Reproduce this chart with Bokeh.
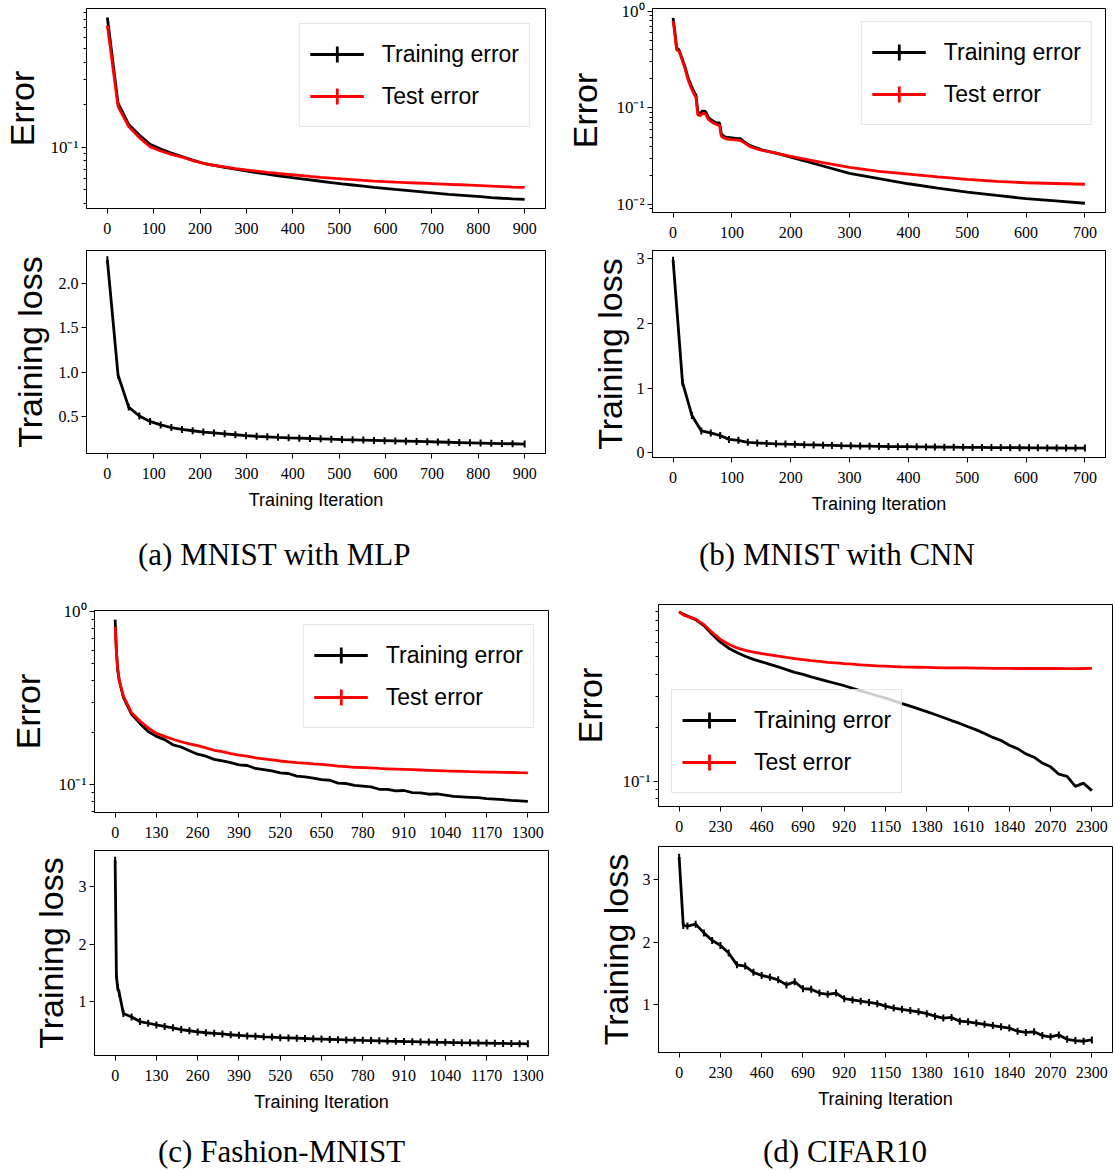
import math
from bokeh.plotting import figure
from bokeh.models import (Range1d, FixedTicker, Legend, LegendItem, Div,
                          NumeralTickFormatter, CustomJSTickFormatter)
from bokeh.layouts import row, column
from bokeh.embed import file_html
from bokeh.resources import INLINE

# ------------------------------------------------------------------ data
# (a) MNIST with MLP
mlp_iter = [0, 23, 46, 69, 92, 115, 138, 161, 184, 207, 230, 253, 276, 299, 322,
            345, 368, 391, 414, 437, 460, 483, 506, 529, 552, 575, 598, 621, 644,
            667, 690, 713, 736, 759, 782, 805, 828, 851, 874, 900]
mlp_train_err = [0.83, 0.205, 0.145, 0.122, 0.105, 0.097, 0.091, 0.086, 0.081, 0.077,
                 0.0745, 0.072, 0.070, 0.068, 0.0661, 0.0644, 0.0628, 0.0613, 0.0600,
                 0.0587, 0.0574, 0.0562, 0.0550, 0.0540, 0.0530, 0.0520, 0.0511,
                 0.0502, 0.0494, 0.0486, 0.0478, 0.0471, 0.0464, 0.0458, 0.0452,
                 0.0446, 0.0440, 0.0435, 0.0431, 0.0427]
mlp_test_err = [0.73, 0.195, 0.140, 0.117, 0.101, 0.094, 0.089, 0.085, 0.0805, 0.077,
                0.0745, 0.0725, 0.0705, 0.069, 0.0677, 0.0664, 0.0652, 0.0641, 0.0631,
                0.0621, 0.0612, 0.0604, 0.0596, 0.0589, 0.0582, 0.0576, 0.0571,
                0.0566, 0.0562, 0.0558, 0.0554, 0.0550, 0.0546, 0.0542, 0.0538,
                0.0534, 0.0530, 0.0526, 0.0522, 0.0519]
mlp_loss = [2.26, 0.97, 0.61, 0.51, 0.45, 0.41, 0.38, 0.36, 0.345, 0.33, 0.32, 0.31,
            0.30, 0.29, 0.283, 0.277, 0.271, 0.266, 0.262, 0.258, 0.254, 0.25, 0.246,
            0.243, 0.24, 0.237, 0.234, 0.231, 0.228, 0.225, 0.222, 0.219, 0.216,
            0.213, 0.21, 0.207, 0.204, 0.201, 0.199, 0.196]

# (b) MNIST with CNN
cnn_err_iter = [0, 3, 6, 10, 15, 20, 25, 30, 35,
                39, 42, 46, 50, 55, 60, 65, 70, 75, 79,
                82, 86, 90, 100, 110, 115, 120, 125, 130, 140,
                150, 175, 200, 250, 300, 350, 400, 450, 500, 550,
                600, 650, 700]
cnn_train_err = [0.86, 0.62, 0.42, 0.40, 0.33, 0.27, 0.21, 0.175, 0.15,
                 0.135, 0.09, 0.088, 0.093, 0.092, 0.08, 0.075, 0.072, 0.07, 0.07,
                 0.054, 0.051, 0.05, 0.049, 0.048, 0.048, 0.045, 0.043, 0.041, 0.039,
                 0.037, 0.034, 0.031, 0.0255, 0.021, 0.0185, 0.0164, 0.0148, 0.0134, 0.0124,
                 0.0115, 0.0109, 0.0103]
cnn_test_err = [0.80, 0.58, 0.40, 0.39, 0.32, 0.26, 0.20, 0.165, 0.142,
                0.128, 0.085, 0.083, 0.088, 0.087, 0.076, 0.072, 0.069, 0.067, 0.066,
                0.051, 0.049, 0.048, 0.047, 0.0465, 0.046, 0.044, 0.042, 0.040, 0.038,
                0.0365, 0.034, 0.0315, 0.0275, 0.0242, 0.022, 0.0206, 0.0193, 0.0182, 0.0174,
                0.0168, 0.0165, 0.0162]
cnn_loss_iter = [0, 16, 32, 48, 64, 80, 95, 111, 127, 143, 159, 175, 191, 207, 223,
                 239, 255, 270, 286, 302, 318, 334, 350, 366, 382, 398, 414, 430, 445,
                 461, 477, 493, 509, 525, 541, 557, 573, 589, 605, 620, 636, 652, 668,
                 684, 700]
cnn_loss = [2.98, 1.09, 0.58, 0.34, 0.31, 0.27, 0.21, 0.195, 0.165, 0.155, 0.148, 0.142,
            0.137, 0.133, 0.128, 0.124, 0.12, 0.117, 0.113, 0.11, 0.107, 0.105, 0.103,
            0.1, 0.098, 0.097, 0.095, 0.093, 0.092, 0.09, 0.089, 0.087, 0.086, 0.085,
            0.084, 0.083, 0.082, 0.081, 0.08, 0.079, 0.078, 0.077, 0.076, 0.0755, 0.075]

# (c) Fashion-MNIST
fm_iter = [0, 4, 8, 13, 26, 52, 78, 104, 130, 156, 182, 208, 234, 260, 286, 312, 338,
           364, 390, 416, 442, 468, 494, 520, 546, 572, 598, 624, 650, 676, 702, 728,
           754, 780, 806, 832, 858, 884, 910, 936, 962, 988, 1014, 1040, 1066, 1092,
           1118, 1144, 1170, 1196, 1222, 1248, 1274, 1300]
fm_train_err = [0.90, 0.60, 0.46, 0.40, 0.32, 0.255, 0.226, 0.203, 0.19, 0.182, 0.17,
                0.165, 0.157, 0.15, 0.146, 0.140, 0.137, 0.134, 0.130, 0.129, 0.124,
                0.122, 0.120, 0.117, 0.116, 0.112, 0.111, 0.109, 0.107, 0.106, 0.102,
                0.1015, 0.099, 0.098, 0.097, 0.094, 0.094, 0.092, 0.0925, 0.090, 0.0895,
                0.088, 0.0885, 0.087, 0.0855, 0.085, 0.0845, 0.084, 0.083, 0.0825,
                0.0818, 0.081, 0.0805, 0.080]
fm_test_err = [0.82, 0.58, 0.47, 0.40, 0.325, 0.26, 0.233, 0.213, 0.198, 0.19, 0.183,
               0.177, 0.172, 0.168, 0.163, 0.158, 0.155, 0.151, 0.148, 0.146, 0.143,
               0.141, 0.139, 0.137, 0.1355, 0.134, 0.133, 0.1318, 0.131, 0.1295, 0.128,
               0.127, 0.126, 0.1255, 0.125, 0.124, 0.1235, 0.123, 0.1225, 0.122, 0.1215,
               0.121, 0.1205, 0.120, 0.1196, 0.1192, 0.1188, 0.1185, 0.1182, 0.118,
               0.1177, 0.1175, 0.1172, 0.117]
fm_loss = [3.46, 1.45, 1.25, 1.15, 0.80, 0.74, 0.66, 0.63, 0.60, 0.575, 0.55, 0.52,
           0.50, 0.48, 0.465, 0.455, 0.445, 0.43, 0.42, 0.41, 0.405, 0.395, 0.39, 0.38,
           0.375, 0.37, 0.365, 0.36, 0.355, 0.35, 0.345, 0.34, 0.337, 0.333, 0.33,
           0.325, 0.32, 0.317, 0.313, 0.31, 0.306, 0.303, 0.30, 0.298, 0.295, 0.292,
           0.29, 0.287, 0.285, 0.282, 0.28, 0.277, 0.275, 0.272]

# (d) CIFAR10
cf_iter = [0, 23, 46, 92, 138, 184, 230, 276, 322, 368, 414, 460, 506, 552, 598, 644,
           690, 736, 782, 828, 874, 920, 966, 1012, 1058, 1104, 1150, 1196, 1242, 1288,
           1334, 1380, 1426, 1472, 1518, 1564, 1610, 1656, 1702, 1748, 1794, 1840,
           1886, 1932, 1978, 2024, 2070, 2116, 2162, 2208, 2254, 2300]
cf_train_err = [0.895, 0.87, 0.85, 0.81, 0.75, 0.67, 0.605, 0.56, 0.53, 0.505, 0.485,
                0.47, 0.455, 0.44, 0.425, 0.41, 0.399, 0.387, 0.376, 0.365, 0.355,
                0.345, 0.334, 0.323, 0.313, 0.303, 0.294, 0.284, 0.274, 0.265, 0.256,
                0.247, 0.238, 0.229, 0.22, 0.212, 0.203, 0.195, 0.186, 0.177, 0.17,
                0.16, 0.153, 0.143, 0.137, 0.127, 0.121, 0.110, 0.107, 0.094, 0.098,
                0.089]
cf_test_err = [0.90, 0.86, 0.845, 0.815, 0.76, 0.685, 0.628, 0.59, 0.562, 0.545, 0.533,
               0.523, 0.514, 0.505, 0.497, 0.49, 0.483, 0.477, 0.472, 0.467, 0.463,
               0.459, 0.456, 0.452, 0.449, 0.446, 0.444, 0.442, 0.440, 0.439, 0.438,
               0.437, 0.436, 0.435, 0.435, 0.434, 0.434, 0.433, 0.433, 0.432, 0.432,
               0.432, 0.431, 0.431, 0.431, 0.431, 0.431, 0.431, 0.43, 0.43, 0.431, 0.432]
cf_loss = [3.36, 2.27, 2.26, 2.29, 2.15, 2.03, 1.95, 1.83, 1.64, 1.62, 1.52, 1.47,
           1.44, 1.40, 1.32, 1.37, 1.26, 1.25, 1.19, 1.17, 1.19, 1.10, 1.08, 1.06,
           1.04, 1.02, 0.98, 0.95, 0.93, 0.91, 0.89, 0.86, 0.82, 0.79, 0.80, 0.74,
           0.73, 0.71, 0.69, 0.67, 0.65, 0.63, 0.58, 0.56, 0.57, 0.51, 0.49, 0.52,
           0.45, 0.43, 0.42, 0.44]

# tick positions / labels
mlp_xticks = [0, 100, 200, 300, 400, 500, 600, 700, 800, 900]
cnn_xticks = [0, 100, 200, 300, 400, 500, 600, 700]
fm_xticks = [0, 130, 260, 390, 520, 650, 780, 910, 1040, 1170, 1300]
cf_xticks = [0, 230, 460, 690, 920, 1150, 1380, 1610, 1840, 2070, 2300]
mlp_loss_ticks = [0.5, 1.0, 1.5, 2.0]
cnn_loss_ticks = [0, 1, 2, 3]
fm_loss_ticks = [1, 2, 3]
cf_loss_ticks = [1, 2, 3]
decades = [0.01, 0.1, 1.0]
minor_log = [0.008, 0.009, 0.02, 0.03, 0.04, 0.05, 0.06, 0.07, 0.08, 0.09,
             0.2, 0.3, 0.4, 0.5, 0.6, 0.7, 0.8, 0.9]

captions = ["(a) MNIST with MLP", "(b) MNIST with CNN", "(c) Fashion-MNIST", "(d) CIFAR10"]

SERIF = "Liberation Serif"
SANS = "Liberation Sans"
NAN = float("nan")
LW = 2.8

LOG_FMT = """
const e = Math.round(Math.log10(tick));
const sup = {"-": "\u207b", "0": "\u2070", "1": "\u00b9", "2": "\u00b2", "3": "\u00b3"};
return "10" + String(e).split("").map((c) => sup[c]).join("");
"""


def style(p, ylabel, ylab_standoff):
    p.grid.visible = False
    p.background_fill_color = "white"
    p.border_fill_color = "white"
    p.outline_line_color = "black"
    p.outline_line_width = 1
    for ax in (p.xaxis[0], p.yaxis[0]):
        ax.axis_line_color = "black"
        ax.major_tick_line_color = "black"
        ax.minor_tick_line_color = "black"
        ax.major_tick_out = 5
        ax.major_tick_in = 0
        ax.minor_tick_out = 3
        ax.minor_tick_in = 0
        ax.major_label_text_font = SERIF
        ax.major_label_text_font_size = "16px"
        ax.major_label_text_color = "black"
        ax.axis_label_text_font = SANS
        ax.axis_label_text_font_style = "normal"
        ax.axis_label_text_color = "black"
    p.xaxis.minor_tick_line_color = None
    p.xaxis.major_label_standoff = 9
    p.yaxis.major_label_standoff = 3
    p.yaxis.axis_label = ylabel
    p.yaxis.axis_label_text_font_size = "34px"
    p.yaxis.axis_label_standoff = ylab_standoff


def error_fig(width, height, borders, xr, yr, xticks, x, train, test,
              legend_loc, legend_margin, ylab_standoff):
    left, right, top, bottom = borders
    p = figure(width=width, height=height, y_axis_type="log",
               x_range=Range1d(*xr), y_range=Range1d(*yr),
               output_backend="svg", toolbar_location=None,
               min_border_left=left, min_border_right=right,
               min_border_top=top, min_border_bottom=bottom)
    style(p, "Error", ylab_standoff)
    p.xaxis.ticker = FixedTicker(ticks=xticks)
    p.yaxis.ticker = FixedTicker(ticks=decades, minor_ticks=minor_log)
    p.yaxis.formatter = CustomJSTickFormatter(code=LOG_FMT)
    p.yaxis.major_label_text_font_size = "17px"
    l1 = p.line(x, train, line_color="black", line_width=LW)
    l2 = p.line(x, test, line_color="red", line_width=LW)
    c1 = p.scatter([NAN], [NAN], marker="cross", line_color="black", line_width=LW, size=30)
    c2 = p.scatter([NAN], [NAN], marker="cross", line_color="red", line_width=LW, size=30)
    leg = Legend(items=[LegendItem(label="Training error", renderers=[l1, c1]),
                        LegendItem(label="Test error", renderers=[l2, c2])],
                 location=legend_loc, margin=legend_margin, padding=10, spacing=2,
                 glyph_width=54, glyph_height=40, label_height=40, label_standoff=18,
                 label_text_font=SANS, label_text_font_size="23px",
                 label_text_color="black",
                 border_line_color="#cccccc", border_line_width=1,
                 background_fill_color="white", background_fill_alpha=0.8)
    p.add_layout(leg, "center")
    return p


def loss_fig(width, height, borders, xr, yr, xticks, yticks, x, loss,
             ylab_standoff, yfmt=None):
    left, right, top, bottom = borders
    p = figure(width=width, height=height,
               x_range=Range1d(*xr), y_range=Range1d(*yr),
               output_backend="svg", toolbar_location=None,
               min_border_left=left, min_border_right=right,
               min_border_top=top, min_border_bottom=bottom)
    style(p, "Training loss", ylab_standoff)
    p.yaxis.minor_tick_line_color = None
    p.xaxis.ticker = FixedTicker(ticks=xticks)
    p.yaxis.ticker = FixedTicker(ticks=yticks)
    if yfmt:
        p.yaxis.formatter = NumeralTickFormatter(format=yfmt)
    p.xaxis.axis_label = "Training Iteration"
    p.xaxis.axis_label_text_font_size = "18px"
    p.xaxis.axis_label_standoff = 8
    p.line(x, loss, line_color="black", line_width=LW)
    p.scatter(x, loss, marker="dash", angle=math.pi / 2, size=7,
              line_color="black", line_width=2)
    return p


def caption_div(text, width, height, pad_top, pad_left):
    html = ('<div style="font-family: \'Liberation Serif\', serif; font-size: 31px; '
            'line-height: 31px; color: black; white-space: nowrap; margin: 0; '
            f'padding-top: {pad_top}px; padding-left: {pad_left}px;">{text}</div>')
    return Div(text=html, width=width, height=height, margin=0)


# (a)
pa_err = error_fig(552, 250, (86, 7, 8, 42), (-45, 945), (0.0368, 0.962),
                   mlp_xticks, mlp_iter, mlp_train_err, mlp_test_err,
                   "top_right", 15, 6)
pa_loss = loss_fig(552, 265, (86, 7, 0, 62), (-45, 945), (0.09, 2.365),
                   mlp_xticks, mlp_loss_ticks, mlp_iter, mlp_loss, 7, yfmt="0.0")
pa_cap = caption_div(captions[0], 552, 65, 24, 138)
# (b)
pb_err = error_fig(561, 250, (100, 8, 8, 38), (-35, 735), (0.00826, 1.074),
                   cnn_xticks, cnn_err_iter, cnn_train_err, cnn_test_err,
                   "top_right", 13, 9)
pb_loss = loss_fig(561, 269, (100, 8, 0, 62), (-35, 735), (-0.07, 3.13),
                   cnn_xticks, cnn_loss_ticks, cnn_loss_iter, cnn_loss, 5)
pb_cap = caption_div(captions[1], 561, 61, 20, 147)
# (c)
pc_err = error_fig(552, 270, (94, 4, 30, 38), (-65, 1365), (0.069, 1.016),
                   fm_xticks, fm_iter, fm_train_err, fm_test_err,
                   "top_right", 14, 8)
pc_loss = loss_fig(552, 267, (94, 4, 0, 62), (-65, 1365), (0.07, 3.63),
                   fm_xticks, fm_loss_ticks, fm_iter, fm_loss, 6)
pc_cap = caption_div(captions[2], 552, 52, 19, 158)
# (d)
pd_err = error_fig(561, 266, (106, 1, 24, 40), (-115, 2415), (0.0725, 0.985),
                   cf_xticks, cf_iter, cf_train_err, cf_test_err,
                   "bottom_left", 13, 10)
pd_loss = loss_fig(561, 268, (106, 1, 0, 62), (-115, 2415), (0.24, 3.53),
                   cf_xticks, cf_loss_ticks, cf_iter, cf_loss, 5)
pd_cap = caption_div(captions[3], 561, 55, 22, 211)

layout = column(row(column(pa_err, pa_loss, pa_cap), column(pb_err, pb_loss, pb_cap)),
                row(column(pc_err, pc_loss, pc_cap), column(pd_err, pd_loss, pd_cap)))

open("out.html", "w").write(file_html(layout, INLINE))
